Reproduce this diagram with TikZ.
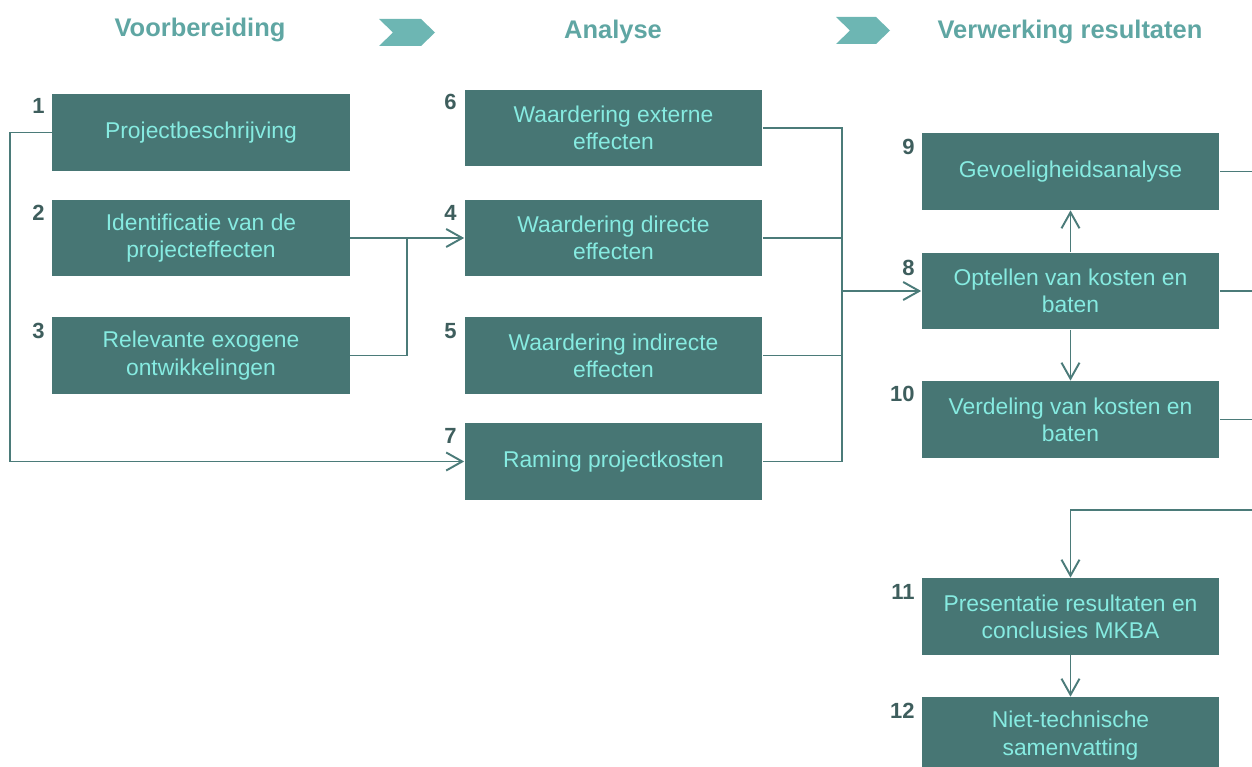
\documentclass[tikz,border=0pt]{standalone}
\usepackage{fontspec}
\setmainfont{Liberation Sans}
\usetikzlibrary{arrows.meta}
\definecolor{boxfill}{HTML}{477674}
\definecolor{boxtext}{HTML}{86EBE1}
\definecolor{lijnkl}{HTML}{4B7B79}
\definecolor{numkl}{HTML}{3E5E5D}
\definecolor{kopkl}{HTML}{5FA6A3}
\definecolor{pijlkl}{HTML}{6DB6B3}

\begin{document}
\begin{tikzpicture}[x=0.02cm, y=-0.02cm,
    stap/.style={fill=boxfill, text=boxtext, minimum width=5.96cm, minimum height=1.54cm,
        inner sep=0pt, align=center, font=\fontsize{13}{15.5}\selectfont},
    num/.style={anchor=east, inner sep=0pt, text=numkl, font=\fontsize{12.5}{14}\selectfont\bfseries},
    fase/.style={text=kopkl, font=\fontsize{14.5}{17}\selectfont\bfseries},
    verb/.style={draw=lijnkl, line width=1.1pt},
    >={Straight Barb[length=3.2mm,width=3.6mm]}]
    \useasboundingbox (0,0) rectangle (1252,767);
    % fasen
    \path ( 200,  30) node [fase] (voorb) {Voorbereiding};
    \path ( 613,  32) node [fase] (anal) {Analyse};
    \path (1070,  32) node [fase] (verw) {Verwerking resultaten};
    \fill [pijlkl] (379,19) -- (421,19) -- (435,32.5) -- (421,46) -- (379,46) -- (393,32.5) -- cycle;
    \fill [pijlkl] (836,17) -- (876,17) -- (890,30.5) -- (876,44) -- (836,44) -- (850,30.5) -- cycle;
    % voorbereiding
    \path ( 201, 132.5) node [stap] (proj) {Projectbeschrijving};
    \path ( 201, 238) node [stap] (ident) {Identificatie van de\\projecteffecten};
    \path ( 201, 355.5) node [stap] (relev) {Relevante exogene\\ontwikkelingen};
    % analyse
    \path ( 613.5, 128) node [stap] (wext) {Waardering externe\\effecten};
    \path ( 613.5, 238) node [stap] (wdir) {Waardering directe\\effecten};
    \path ( 613.5, 355.5) node [stap] (wind) {Waardering indirecte\\effecten};
    \path ( 613.5, 461.5) node [stap] (kost) {Raming projectkosten};
    % verwerking
    \path (1070.5, 171.5) node [stap] (gev) {Gevoeligheidsanalyse};
    \path (1070.5, 291) node [stap] (opt) {Optellen van kosten en\\baten};
    \path (1070.5, 419.5) node [stap] (verd) {Verdeling van kosten en\\baten};
    \path (1070.5, 616.5) node [stap] (pres) {Presentatie resultaten en\\conclusies MKBA};
    \path (1070.5, 735.5) node [stap] (niet) {Niet-technische\\samenvatting};
    % nummers
    \path (  45, 106) node [num] (n1) {1};
    \path (  45, 213) node [num] (n2) {2};
    \path (  45, 331) node [num] (n3) {3};
    \path ( 457, 102) node [num] (n6) {6};
    \path ( 457, 213) node [num] (n4) {4};
    \path ( 457, 331) node [num] (n5) {5};
    \path ( 457, 436) node [num] (n7) {7};
    \path ( 915, 147) node [num] (n9) {9};
    \path ( 915, 268) node [num] (n8) {8};
    \path ( 915, 394) node [num] (n10) {10};
    \path ( 915, 592) node [num] (n11) {11};
    \path ( 915, 711) node [num] (n12) {12};
    % verbindingen
    \coordinate (links) at (  10, 461.5);
    \coordinate (j1) at ( 407, 238);
    \coordinate (j2) at ( 842, 291);
    \coordinate (bus) at (1262, 510);
    \draw [verb, ->] (proj.west) -| (links) -- (kost);
    \draw [verb, ->] (ident) -- (wdir);
    \draw [verb] (relev) -| (j1);
    \draw [verb] (wext) -| (j2);
    \draw [verb] (wdir) -| (j2);
    \draw [verb] (wind) -| (j2);
    \draw [verb] (kost) -| (j2);
    \draw [verb, ->] (j2) -- (opt);
    \draw [verb, ->] (opt) -- (gev);
    \draw [verb, ->] (opt) -- (verd);
    \draw [verb, ->] (gev) -- (gev -| bus) -- (bus) -| (pres);
    \draw [verb] (opt) -- (opt -| bus);
    \draw [verb] (verd) -- (verd -| bus);
    \draw [verb, ->] (pres) -- (niet);
\end{tikzpicture}
\end{document}
